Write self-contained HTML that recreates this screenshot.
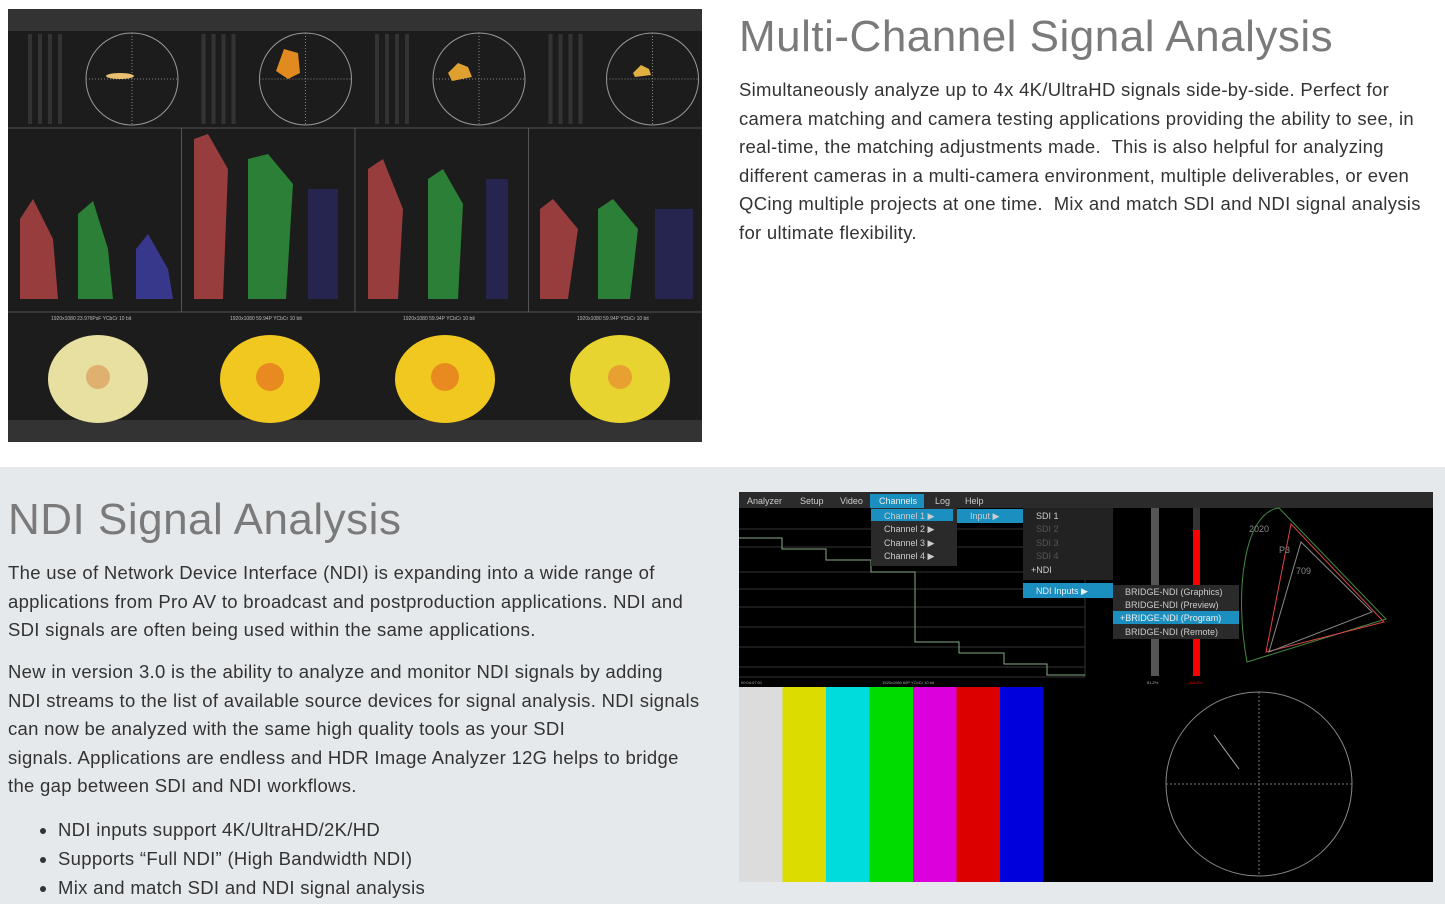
<!DOCTYPE html>
<html><head><meta charset="utf-8"><style>
body{margin:0;width:1445px;height:904px;overflow:hidden;background:#fff;font-family:"Liberation Sans",sans-serif;position:relative}
.abs{position:absolute}
h1{font-weight:300;color:#7a7a7a;font-size:44px;margin:0;letter-spacing:0.5px;white-space:nowrap}
p{margin:0;color:#333;font-size:18.5px;line-height:28.5px;letter-spacing:0.3px;white-space:nowrap}
ul{margin:0;padding-left:50px;color:#333;font-size:18.5px;line-height:29px;letter-spacing:0.3px;white-space:nowrap}
</style></head><body>
<svg class="abs" style="left:8px;top:9px" width="694" height="433" viewBox="0 0 694 433">
<rect width="694" height="433" fill="#1c1c1c"/>
<rect width="694" height="22" fill="#333"/>
<rect y="411" width="694" height="22" fill="#333"/>
<g stroke="#555" stroke-width="1">
<line x1="0" y1="119" x2="694" y2="119"/><line x1="0" y1="303" x2="694" y2="303"/>
<line x1="173.5" y1="119" x2="173.5" y2="303"/><line x1="347" y1="119" x2="347" y2="303"/><line x1="520.5" y1="119" x2="520.5" y2="303"/>
</g>
<g font-family="Liberation Sans" font-size="5" fill="#bbb">
<text x="43" y="311">1920x1080 23.976PsF YCbCr 10 bit</text>
<text x="222" y="311">1920x1080 59.94P YCbCr 10 bit</text>
<text x="395" y="311">1920x1080 59.94P YCbCr 10 bit</text>
<text x="569" y="311">1920x1080 59.94P YCbCr 10 bit</text>
</g>
<g id="c1">
<rect x="20" y="25" width="4" height="90" fill="#333"/><rect x="30" y="25" width="4" height="90" fill="#333"/><rect x="40" y="25" width="4" height="90" fill="#333"/><rect x="50" y="25" width="4" height="90" fill="#333"/>
<ellipse cx="124" cy="70" rx="46" ry="46" fill="none" stroke="#999"/>
<line x1="78" y1="70" x2="170" y2="70" stroke="#888" stroke-dasharray="1 2"/><line x1="124" y1="24" x2="124" y2="116" stroke="#888" stroke-dasharray="1 2"/>
</g>
<use href="#c1" x="173.5"/><use href="#c1" x="347"/><use href="#c1" x="520.5"/>
<ellipse cx="112" cy="67" rx="14" ry="3" fill="#e8c070"/>
<path d="M268 62 l8 -22 l14 4 l2 20 l-12 6z" fill="#e08a20"/>
<path d="M440 64 l10 -10 l10 4 l4 10 l-20 4z" fill="#e0a030"/>
<path d="M625 64 l8 -8 l8 4 l2 6 l-16 2z" fill="#e0b040"/>
<g opacity="0.75">
<path d="M12 290 L12 210 L25 190 L45 230 L50 290Z" fill="#c04848"/>
<path d="M70 290 L70 205 L85 192 L100 240 L105 290Z" fill="#30a040"/>
<path d="M128 290 L128 240 L140 225 L160 260 L165 290Z" fill="#4040b0"/>
<path d="M186 290 L186 130 L200 125 L220 160 L215 290Z" fill="#c04848"/>
<path d="M240 290 L240 150 L260 145 L285 175 L278 290Z" fill="#30a040"/>
<path d="M300 290 L300 180 L330 180 L330 290Z" fill="#303090" opacity="0.6"/>
<path d="M360 290 L360 160 L375 150 L395 200 L390 290Z" fill="#c04848"/>
<path d="M420 290 L420 170 L435 160 L455 195 L450 290Z" fill="#30a040"/>
<path d="M478 290 L478 170 L500 170 L500 290Z" fill="#303090" opacity="0.6"/>
<path d="M532 290 L532 200 L545 190 L570 220 L560 290Z" fill="#c04848"/>
<path d="M590 290 L590 200 L605 190 L630 220 L622 290Z" fill="#30a040"/>
<path d="M647 290 L647 200 L685 200 L685 290Z" fill="#303090" opacity="0.6"/>
</g>
<g fill="#e8e0a0"><ellipse cx="90" cy="370" rx="50" ry="44"/></g>
<g fill="#f0c820"><ellipse cx="262" cy="370" rx="50" ry="44"/><ellipse cx="437" cy="370" rx="50" ry="44"/></g>
<g fill="#e8d430"><ellipse cx="612" cy="370" rx="50" ry="44"/></g>
<circle cx="262" cy="368" r="14" fill="#e88a20"/><circle cx="437" cy="368" r="14" fill="#e88a20"/><circle cx="612" cy="368" r="12" fill="#e8a030"/><circle cx="90" cy="368" r="12" fill="#e0b070"/>
</svg>
<h1 class="abs" style="left:739px;top:12px">Multi-Channel Signal Analysis</h1>
<p class="abs" style="left:739px;top:76px">Simultaneously analyze up to 4x 4K/UltraHD signals side-by-side. Perfect for<br>camera matching and camera testing applications providing the ability to see, in<br>real-time, the matching adjustments made.&nbsp; This is also helpful for analyzing<br>different cameras in a multi-camera environment, multiple deliverables, or even<br>QCing multiple projects at one time.&nbsp; Mix and match SDI and NDI signal analysis<br>for ultimate flexibility.</p>

<div class="abs" style="left:0;top:467px;width:1445px;height:437px;background:#e6e9eb"></div>
<h1 class="abs" style="left:8px;top:495px">NDI Signal Analysis</h1>
<p class="abs" style="left:8px;top:559px">The use of Network Device Interface (NDI) is expanding into a wide range of<br>applications from Pro AV to broadcast and postproduction applications. NDI and<br>SDI signals are often being used within the same applications.</p>
<p class="abs" style="left:8px;top:658px">New in version 3.0 is the ability to analyze and monitor NDI signals by adding<br>NDI streams to the list of available source devices for signal analysis. NDI signals<br>can now be analyzed with the same high quality tools as your SDI<br>signals. Applications are endless and HDR Image Analyzer 12G helps to bridge<br>the gap between SDI and NDI workflows.</p>
<ul class="abs" style="left:8px;top:815px"><li>NDI inputs support 4K/UltraHD/2K/HD</li><li>Supports “Full NDI” (High Bandwidth NDI)</li><li>Mix and match SDI and NDI signal analysis</li></ul>

<svg class="abs" style="left:739px;top:492px" width="694" height="390" viewBox="0 0 694 390" font-family="Liberation Sans">
<rect width="694" height="390" fill="#000"/>
<rect width="694" height="16" fill="#2b2b2b"/>
<g fill="#ccc" font-size="9"><text x="8" y="12">Analyzer</text><text x="61" y="12">Setup</text><text x="101" y="12">Video</text><text x="196" y="12">Log</text><text x="226" y="12">Help</text></g>
<rect x="131" y="2" width="54" height="14" fill="#1a8fc0"/><text x="140" y="12" fill="#eee" font-size="9">Channels</text>
<g stroke="#333"><line x1="0" y1="37" x2="346" y2="37"/><line x1="0" y1="55" x2="346" y2="55"/><line x1="0" y1="80" x2="346" y2="80"/><line x1="0" y1="97" x2="346" y2="97"/><line x1="0" y1="115" x2="346" y2="115"/><line x1="0" y1="135" x2="346" y2="135"/><line x1="0" y1="155" x2="346" y2="155"/><line x1="0" y1="175" x2="346" y2="175"/><line x1="346" y1="16" x2="346" y2="185"/><line x1="0" y1="185" x2="346" y2="185"/></g>
<path d="M0 46H43V57H87V68H132V80H176V150H220V161H265V172H308V183H346" fill="none" stroke="#8a8" stroke-width="1"/>
<g font-size="4" fill="#aaa"><text x="2" y="192">00:04:07:01</text><text x="143" y="192">1920x1080 60P YCbCr 10 bit</text></g>
<rect x="132" y="16" width="86" height="58" fill="#2a2a2a"/>
<rect x="132" y="17" width="82" height="12" fill="#1a8fc0"/>
<rect x="218" y="17" width="66" height="14" fill="#1a8fc0"/>
<g fill="#ccc" font-size="9"><text x="145" y="27">Channel 1 ▶</text><text x="145" y="40">Channel 2 ▶</text><text x="145" y="54">Channel 3 ▶</text><text x="145" y="67">Channel 4 ▶</text><text x="231" y="27">Input ▶</text></g>
<rect x="284" y="16" width="90" height="72" fill="#222"/>
<g font-size="9"><text x="297" y="27" fill="#ccc">SDI 1</text><text x="297" y="40" fill="#555">SDI 2</text><text x="297" y="54" fill="#555">SDI 3</text><text x="297" y="67" fill="#555">SDI 4</text><text x="292" y="81" fill="#ccc">+NDI</text></g>
<rect x="284" y="91" width="90" height="15" fill="#1a8fc0"/><text x="297" y="102" fill="#eee" font-size="9">NDI Inputs ▶</text>
<rect x="412" y="16" width="8" height="168" fill="#555"/>
<rect x="454" y="16" width="7" height="168" fill="#333"/><rect x="454" y="38" width="7" height="146" fill="#f00"/>
<rect x="374" y="93" width="126" height="54" fill="#2a2a2a"/>
<rect x="374" y="119" width="126" height="13" fill="#1a8fc0"/>
<g fill="#ccc" font-size="9"><text x="386" y="103">BRIDGE-NDI (Graphics)</text><text x="386" y="116">BRIDGE-NDI (Preview)</text><text x="381" y="129" fill="#eee">+BRIDGE-NDI (Program)</text><text x="386" y="143">BRIDGE-NDI (Remote)</text></g>
<g font-size="4"><text x="408" y="192" fill="#aaa">81.2%</text><text x="450" y="192" fill="#f00">114.3%</text></g>
<path d="M540 16 C505 20 495 100 508 170 L647 127 Z" fill="none" stroke="#484"/>
<path d="M527 160 L552 32 L645 130 Z" fill="none" stroke="#d44"/>
<path d="M530 160 L562 50 L633 120 Z" fill="none" stroke="#888"/>
<g fill="#888" font-size="9"><text x="510" y="40">2020</text><text x="540" y="61">P3</text><text x="557" y="82">709</text></g>
<rect x="0" y="195" width="44" height="195" fill="#dcdcdc"/>
<rect x="43.5" y="195" width="44" height="195" fill="#dcdc00"/>
<rect x="87" y="195" width="44" height="195" fill="#00dcdc"/>
<rect x="130.5" y="195" width="44" height="195" fill="#00dc00"/>
<rect x="174" y="195" width="44" height="195" fill="#dc00dc"/>
<rect x="217.5" y="195" width="44" height="195" fill="#dc0000"/>
<rect x="261" y="195" width="43" height="195" fill="#0000dc"/>
<ellipse cx="520" cy="292" rx="93" ry="92" fill="none" stroke="#888"/>
<line x1="427" y1="292" x2="613" y2="292" stroke="#777" stroke-dasharray="2 2"/>
<line x1="520" y1="200" x2="520" y2="384" stroke="#777" stroke-dasharray="2 2"/>
<line x1="475" y1="243" x2="500" y2="277" stroke="#aaa"/>
</svg>
</body></html>
